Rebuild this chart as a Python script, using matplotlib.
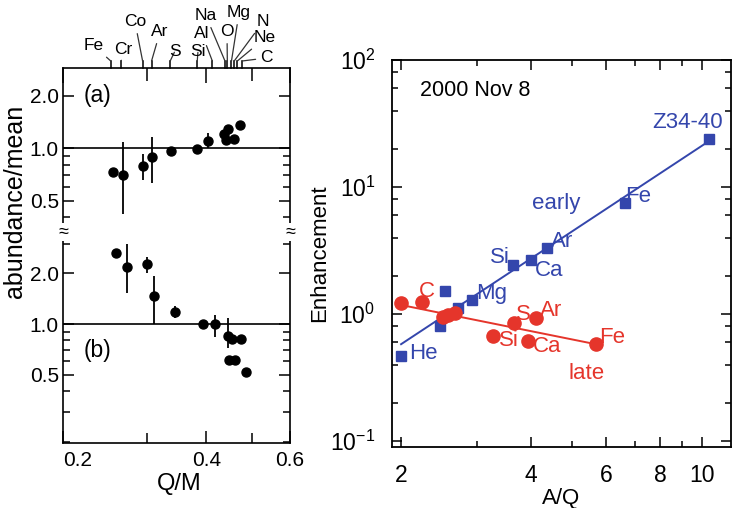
import numpy as np
import matplotlib
matplotlib.use('Agg')
import matplotlib.pyplot as plt
from matplotlib.ticker import FixedLocator, FuncFormatter, NullFormatter, LogLocator

plt.rcParams['font.family'] = ['Liberation Sans', 'DejaVu Sans']
plt.rcParams['mathtext.fontset'] = 'custom'
plt.rcParams['mathtext.rm'] = 'Liberation Sans'

# left panel: abundance/mean vs Q/M, (a) and (b)
a_qm = [0.255, 0.267, 0.295, 0.308, 0.338, 0.383, 0.404, 0.435, 0.445, 0.44, 0.458, 0.471]
a_val = [0.73, 0.70, 0.79, 0.885, 0.96, 0.99, 1.10, 1.21, 1.28, 1.11, 1.13, 1.35]
a_lo = [0.73, 0.42, 0.66, 0.63, 0.90, 0.99, 1.00, 1.21, 1.28, 1.11, 1.13, 1.35]
a_hi = [0.73, 1.08, 0.92, 1.16, 1.02, 0.99, 1.22, 1.21, 1.28, 1.11, 1.13, 1.35]

b_qm = [0.259, 0.272, 0.301, 0.311, 0.344, 0.393, 0.418, 0.445, 0.454, 0.474, 0.447, 0.46, 0.485]
b_val = [2.65, 2.19, 2.29, 1.46, 1.18, 1.0, 1.0, 0.85, 0.82, 0.82, 0.61, 0.61, 0.52]
b_lo = [2.65, 1.54, 2.00, 1.00, 1.09, 1.0, 0.84, 0.72, 0.82, 0.82, 0.61, 0.61, 0.52]
b_hi = [2.65, 3.00, 2.50, 1.94, 1.28, 1.0, 1.13, 1.08, 0.82, 0.82, 0.61, 0.61, 0.52]

# element markers on top of the left panel
elem_names = ['Fe', 'Cr', 'Co', 'Ar', 'S', 'Si', 'Al', 'Na', 'O', 'Mg', 'N', 'Ne', 'C']
elem_qm = [0.252, 0.265, 0.294, 0.307, 0.336, 0.383, 0.412, 0.438, 0.443, 0.452, 0.458, 0.465, 0.476]

# right panel: enhancement vs A/Q
early_aq = [2.0, 2.46, 2.53, 2.71, 2.92, 3.64, 4.0, 4.37, 6.65, 10.4]
early_enh = [0.47, 0.80, 1.52, 1.11, 1.29, 2.43, 2.66, 3.31, 7.5, 23.9]
late_aq = [2.0, 2.24, 2.50, 2.57, 2.67, 3.27, 3.66, 3.94, 4.11, 5.67]
late_enh = [1.22, 1.24, 0.95, 0.98, 1.02, 0.67, 0.85, 0.62, 0.93, 0.58]
early_fit_aq = [2.0, 10.4]
early_fit_enh = [0.58, 23.0]
late_fit_aq = [2.0, 5.67]
late_fit_enh = [1.18, 0.58]

early_labels = ['Z34-40', 'Fe', 'Ar', 'Si', 'Ca', 'Mg', 'He', 'early']
early_lab_x = [9.27, 7.13, 4.73, 3.40, 4.43, 3.24, 2.25, 4.58]
early_lab_y = [32.5, 8.5, 3.76, 2.81, 2.22, 1.45, 0.49, 7.48]
late_labels = ['C', 'S', 'Ar', 'Si', 'Ca', 'Fe', 'late']
late_lab_x = [2.29, 3.84, 4.46, 3.56, 4.36, 6.18, 5.40]
late_lab_y = [1.52, 1.0, 1.06, 0.62, 0.56, 0.66, 0.343]

W, H = 733, 508
BLUE = '#3446ac'
RED = '#e5352b'

fig = plt.figure(figsize=(W / 100, H / 100), dpi=100)

def box(x0, y0, x1, y1):
    return [x0 / W, 1 - y1 / H, (x1 - x0) / W, (y1 - y0) / H]

ax_a = fig.add_axes(box(63, 68, 290, 232))
ax_b = fig.add_axes(box(63, 232, 290, 443))
ax_r = fig.add_axes(box(392, 60, 731, 447))

for ax, qm, val, lo, hi, ylim in [(ax_a, a_qm, a_val, a_lo, a_hi, (0.33, 2.88)),
                                  (ax_b, b_qm, b_val, b_lo, b_hi, (0.196, 3.53))]:
    val = np.array(val)
    err = [val - np.array(lo), np.array(hi) - val]
    ax.errorbar(qm, val, yerr=err, fmt='o', color='k', ms=6.5, elinewidth=1.3, capsize=0)
    ax.axhline(1.0, color='k', lw=1.2)
    ax.set_xscale('log')
    ax.set_yscale('log')
    ax.set_xlim(0.2, 0.6)
    ax.set_ylim(*ylim)
    ax.xaxis.set_major_locator(FixedLocator([0.2, 0.4, 0.6]))
    ax.xaxis.set_minor_locator(FixedLocator([0.3, 0.5]))
    ax.xaxis.set_major_formatter(FuncFormatter(lambda v, p: f'{v:.1f}'))
    ax.xaxis.set_minor_formatter(NullFormatter())
    ax.yaxis.set_major_locator(FixedLocator([0.5, 1.0, 2.0]))
    ax.yaxis.set_minor_locator(LogLocator(subs=np.arange(2, 10)))
    ax.yaxis.set_major_formatter(FuncFormatter(lambda v, p: f'{v:.1f}'))
    ax.yaxis.set_minor_formatter(NullFormatter())
    ax.tick_params(which='both', direction='in', left=True, right=True, width=1.1, labelsize=15)
    ax.tick_params(which='major', length=8, pad=3)
    ax.tick_params(which='minor', length=5)
    for s in ax.spines.values():
        s.set_linewidth(1.2)

ax_a.spines['bottom'].set_visible(False)
ax_a.tick_params(axis='x', which='both', bottom=False, labelbottom=False, top=True)
ax_a.tick_params(axis='x', which='major', length=11)
ax_a.tick_params(axis='x', which='minor', length=9)
ax_b.spines['top'].set_visible(False)
ax_b.tick_params(axis='x', which='both', top=False, pad=6)
ax_b.tick_params(axis='x', which='major', length=9)
ax_b.tick_params(axis='x', which='minor', length=7)
ax_b.get_xticklabels()[0].set_horizontalalignment('left')

ax_a.text(0.09, 0.83, '(a)', transform=ax_a.transAxes, fontsize=16.5, va='center')
ax_b.text(0.09, 0.44, '(b)', transform=ax_b.transAxes, fontsize=16.5, va='center')

# element ticks and leader lines above panel (a)
lab_px = [(94, 46), (123, 50), (135, 22), (160, 32), (175, 51), (198, 51), (202, 34),
          (206, 16), (227, 32), (239, 13), (263, 22), (265, 38), (266, 58)]
top = 1.0 + 7 / 164
xt = ax_a.get_xaxis_transform()
for name, qm, (lx, ly) in zip(elem_names, elem_qm, lab_px):
    ax_a.plot([qm, qm], [1.0, top], transform=xt, clip_on=False, color='k', lw=1.1)
    ax_a.annotate(name, xy=(qm, top), xycoords=xt, xytext=(lx, H - ly),
                  textcoords='figure pixels', ha='center', va='center', fontsize=12.5,
                  arrowprops=dict(arrowstyle='-', lw=0.9, color='0.2', shrinkA=1, shrinkB=0),
                  annotation_clip=False)

for bx in (63, 290):
    fig.text(bx / W, 1 - 232 / H, '≈', ha='center', va='center', fontsize=13,
             bbox=dict(facecolor='white', edgecolor='none', pad=0.5))

fig.text(15 / W, 1 - 201 / H, 'abundance/mean', rotation=90, ha='center', va='center', fontsize=18)
fig.text(179 / W, 1 - 484 / H, 'Q/M', ha='center', va='center', fontsize=17)

# right panel
ax_r.plot(early_fit_aq, early_fit_enh, color=BLUE, lw=1.4)
ax_r.plot(late_fit_aq, late_fit_enh, color=RED, lw=1.4)
ax_r.plot(early_aq, early_enh, 's', color=BLUE, ms=7.5, ls='none')
ax_r.plot(late_aq, late_enh, 'o', color=RED, ms=9.5, ls='none')
for t, x, y in zip(early_labels, early_lab_x, early_lab_y):
    ax_r.text(x, y, t, color=BLUE, fontsize=16, ha='center', va='center')
for t, x, y in zip(late_labels, late_lab_x, late_lab_y):
    ax_r.text(x, y, t, color=RED, fontsize=16, ha='center', va='center')
ax_r.text(0.083, 0.922, '2000 Nov 8', transform=ax_r.transAxes, fontsize=15.5, va='center')

ax_r.set_xscale('log')
ax_r.set_yscale('log')
ax_r.set_xlim(1.905, 11.7)
ax_r.set_ylim(0.09, 100)
ax_r.xaxis.set_major_locator(FixedLocator([2, 4, 6, 8, 10]))
ax_r.xaxis.set_minor_locator(FixedLocator([3, 5, 7, 9]))
ax_r.xaxis.set_major_formatter(FuncFormatter(lambda v, p: f'{v:g}'))
ax_r.xaxis.set_minor_formatter(NullFormatter())
ax_r.yaxis.set_major_locator(LogLocator(base=10))
ax_r.yaxis.set_minor_locator(LogLocator(base=10, subs=[2, 4, 6, 8]))
ax_r.yaxis.set_minor_formatter(NullFormatter())
ax_r.tick_params(which='both', direction='in', top=True, right=True, width=1.1, labelsize=16.5)
ax_r.tick_params(which='major', length=7, pad=12)
ax_r.tick_params(which='minor', length=4)
for s in ax_r.spines.values():
    s.set_linewidth(1.3)
ax_r.set_xlabel('A/Q', fontsize=16, labelpad=1)
ax_r.set_ylabel('Enhancement', fontsize=16, labelpad=0)

fig.savefig('out.png', dpi=100)
